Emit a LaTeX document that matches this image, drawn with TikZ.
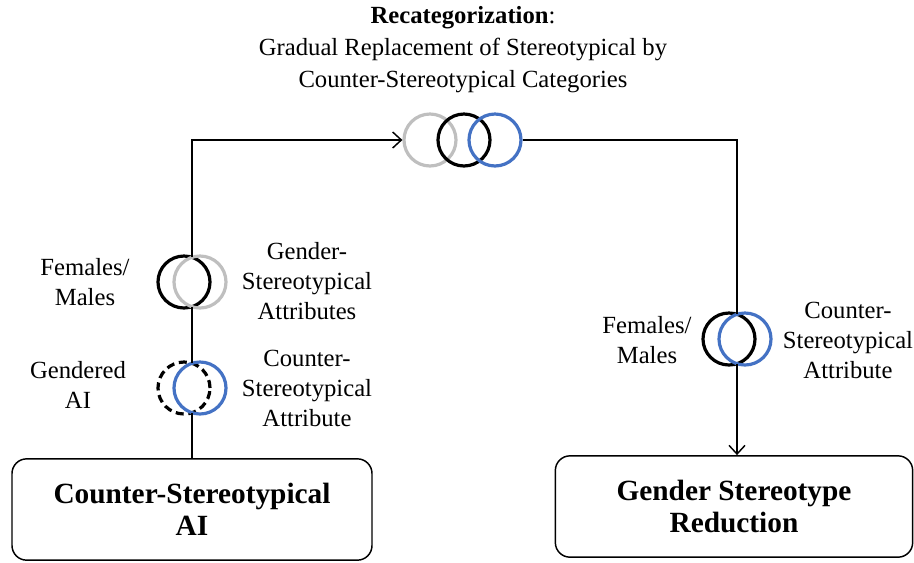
\documentclass[tikz,border=0pt]{standalone}
\usepackage{fontspec}
\setmainfont{Liberation Serif}
\usetikzlibrary{positioning,arrows.meta}
\definecolor{ringblue}{RGB}{68,114,196}
\definecolor{ringgray}{RGB}{191,191,191}
\tikzset{
  ring/.style={circle,draw,line width=2.4pt,minimum size=39pt,inner sep=0pt},
  pair/.style={inner sep=0pt,minimum width=1pt,minimum height=37pt},
  lbl/.style={align=center,font=\fontsize{18.5}{22.5}\selectfont},
  box/.style={draw,rounded corners=11pt,line width=1.1pt,minimum width=270pt,
    minimum height=76pt,align=center,font=\fontsize{22}{24}\selectfont\bfseries},
  link/.style={line width=1.1pt},
  >={Straight Barb[length=6.5pt,width=12pt]}
}
\begin{document}
\begin{tikzpicture}[x=0.75pt,y=-0.75pt]
  \useasboundingbox (0,0) rectangle (914,562);

  % heading
  \node[lbl,font=\fontsize{18.5}{24}\selectfont] (recat) at (463,50)
    {\textbf{Recategorization}:\\Gradual Replacement of Stereotypical by\\Counter-Stereotypical Categories};

  % boxes
  \node[box] (csai) at (192,509.5) {Counter-Stereotypical\\AI};
  \node[box,minimum width=268pt] (gsr) at (734,506.5) {Gender Stereotype\\Reduction};

  % rings on top
  \node[ring,draw=ringgray] (topg) at (430,140) {};
  \node[ring] (topk) at (464,140) {};
  \node[ring,draw=ringblue] (topb) at (495,140) {};

  % rings on the left
  \node[pair] (gsa) at (192,282) {};
  \node[ring] (femk) at (184,282) {};
  \node[ring,draw=ringgray] (attg) at (200,282) {};
  \node[pair] (aia) at (192,388) {};
  \node[ring,dash pattern=on 6pt off 3.5pt] (aik) at (184,388) {};
  \node[ring,draw=ringblue] (aib) at (200,388) {};

  % rings on the right
  \node[pair] (fca) at (737,339) {};
  \node[ring] (rfemk) at (729,339) {};
  \node[ring,draw=ringblue] (rattb) at (745,339) {};

  % labels
  \node[lbl] (lfem) at (85,282) {Females/\\Males};
  \node[lbl] (lgsa) at (307,281) {Gender-\\Stereotypical\\Attributes};
  \node[lbl] (lgai) at (78,385) {Gendered\\AI};
  \node[lbl] (lcsa) at (307,388) {Counter-\\Stereotypical\\Attribute};
  \node[lbl] (rfem) at (647,340) {Females/\\Males};
  \node[lbl] (rcsa) at (848,340) {Counter-\\Stereotypical\\Attribute};

  % connectors
  \draw[link] (csai.north) -- (aia.south);
  \draw[link] (aia.north) -- (gsa.south);
  \draw[link,->] (gsa.north) |- (topg.west);
  \draw[link] (topb.east) -| (fca.north);
  \draw[link,->] (fca.south) -- (fca.south |- gsr.north);
\end{tikzpicture}
\end{document}
